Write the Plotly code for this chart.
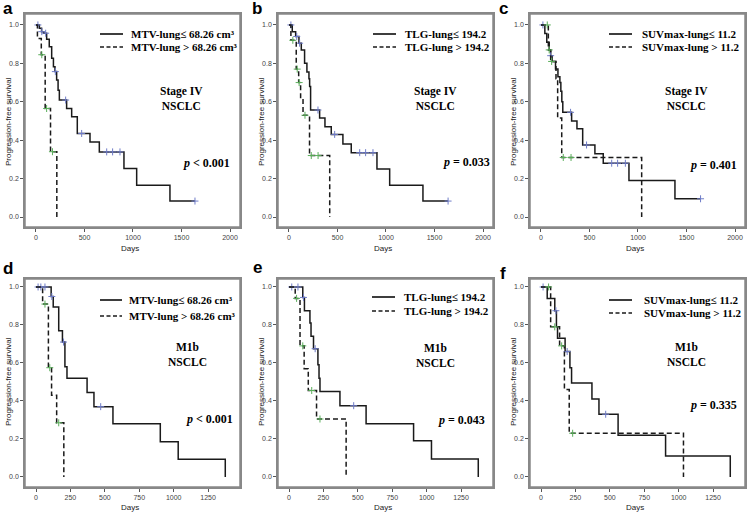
import plotly.graph_objects as go
from plotly.subplots import make_subplots

# ---- data ----
# each curve: event times (days), survival after each time, censor times
a_low_t = [0, 35, 58, 80, 110, 137, 162, 180, 196, 213, 228, 241, 316, 368, 426, 557, 653, 907, 1038, 1381]
a_low_s = [1.0, 0.983, 0.965, 0.957, 0.925, 0.887, 0.826, 0.783, 0.757, 0.713, 0.66, 0.609, 0.565, 0.522, 0.435, 0.391, 0.339, 0.252, 0.165, 0.083]
a_low_c = [20, 60, 100, 200, 306, 471, 729, 790, 866, 1639]
a_high_t = [0, 15, 55, 95, 150, 215]
a_high_s = [1.0, 0.93, 0.845, 0.565, 0.34, 0.0]
a_high_c = [60, 110, 170]

b_low_t = [0, 34, 69, 103, 127, 161, 185, 206, 213, 223, 316, 371, 436, 556, 642, 907, 1038, 1381]
b_low_s = [1.0, 0.965, 0.94, 0.905, 0.87, 0.80, 0.755, 0.72, 0.68, 0.557, 0.515, 0.47, 0.43, 0.38, 0.335, 0.25, 0.165, 0.083]
b_low_c = [20, 80, 110, 299, 471, 729, 790, 866, 1640]
b_high_t = [0, 20, 75, 100, 120, 145, 212, 420]
b_high_s = [1.0, 0.92, 0.77, 0.70, 0.617, 0.53, 0.32, 0.0]
b_high_c = [40, 85, 105, 165, 230, 300]

c_low_t = [0, 40, 60, 85, 100, 115, 150, 175, 195, 205, 215, 225, 316, 371, 430, 556, 642, 907, 1381]
c_low_s = [1.0, 0.955, 0.91, 0.87, 0.84, 0.81, 0.77, 0.73, 0.70, 0.655, 0.60, 0.545, 0.50, 0.46, 0.375, 0.33, 0.28, 0.19, 0.095]
c_low_c = [20, 100, 305, 470, 729, 790, 870, 1645]
c_high_t = [0, 76, 100, 155, 172, 214, 1038]
c_high_s = [1.0, 0.87, 0.81, 0.72, 0.515, 0.31, 0.0]
c_high_c = [65, 85, 110, 230, 310]

d_low_t = [0, 110, 125, 165, 192, 210, 225, 371, 421, 559, 903, 1033, 1375]
d_low_s = [1.0, 0.95, 0.895, 0.77, 0.71, 0.58, 0.52, 0.445, 0.37, 0.28, 0.185, 0.093, 0.0]
d_low_c = [15, 35, 65, 115, 200, 470]
d_high_t = [0, 48, 90, 113, 150, 202]
d_high_s = [1.0, 0.91, 0.575, 0.43, 0.285, 0.0]
d_high_c = [65, 100, 165]

e_low_t = [0, 100, 112, 152, 160, 178, 210, 218, 225, 370, 560, 905, 1035, 1375]
e_low_s = [1.0, 0.945, 0.875, 0.81, 0.74, 0.675, 0.59, 0.52, 0.45, 0.375, 0.28, 0.19, 0.095, 0.0]
e_low_c = [20, 65, 105, 190, 470]
e_high_t = [0, 45, 80, 110, 140, 200, 415]
e_high_s = [1.0, 0.94, 0.69, 0.57, 0.455, 0.305, 0.0]
e_high_c = [55, 100, 165, 225]

f_low_t = [0, 45, 100, 112, 120, 175, 210, 222, 370, 421, 560, 905, 1375]
f_low_s = [1.0, 0.94, 0.875, 0.79, 0.73, 0.66, 0.575, 0.495, 0.41, 0.33, 0.22, 0.11, 0.0]
f_low_c = [15, 108, 190, 470]
f_high_t = [0, 70, 135, 170, 205, 1035]
f_high_s = [1.0, 0.79, 0.69, 0.46, 0.23, 0.0]
f_high_c = [55, 100, 150, 230]

panel_letters = ["a", "b", "c", "d", "e", "f"]
legend_low = ["MTV-lung≤ 68.26 cm³", "TLG-lung≤ 194.2", "SUVmax-lung≤ 11.2"] * 2
legend_high = ["MTV-lung > 68.26 cm³", "TLG-lung > 194.2", "SUVmax-lung > 11.2"] * 2
stage_text = ["Stage IV<br>NSCLC"] * 3 + ["M1b<br>NSCLC"] * 3
p_text = ["<i>p</i> < 0.001", "<i>p</i> = 0.033", "<i>p</i> = 0.401",
          "<i>p</i> < 0.001", "<i>p</i> = 0.043", "<i>p</i> = 0.335"]

curves = [
    (a_low_t, a_low_s, a_low_c, a_high_t, a_high_s, a_high_c),
    (b_low_t, b_low_s, b_low_c, b_high_t, b_high_s, b_high_c),
    (c_low_t, c_low_s, c_low_c, c_high_t, c_high_s, c_high_c),
    (d_low_t, d_low_s, d_low_c, d_high_t, d_high_s, d_high_c),
    (e_low_t, e_low_s, e_low_c, e_high_t, e_high_s, e_high_c),
    (f_low_t, f_low_s, f_low_c, f_high_t, f_high_s, f_high_c),
]

W, H = 747, 513
LINE = "#1a1a1a"
BLUE = "#6f7cc8"
GREEN = "#5aae5a"
FRAME = "#888888"
SERIF = "Liberation Serif"
SANS = "Liberation Sans"
DASH = "5px,3px"


def px(x):
    return x / W


def py(y):
    return 1 - y / H


def step_value(times, surv, t):
    v = surv[0]
    for ti, si in zip(times, surv):
        if ti <= t:
            v = si
    return v


def km_line(times, surv, cens):
    xs = list(times)
    ys = list(surv)
    if cens and max(cens) > times[-1]:
        xs.append(max(cens))
        ys.append(surv[-1])
    return xs, ys


fig = make_subplots(rows=2, cols=3)

col_px = [(25, 240), (278, 493), (530, 745)]
row_px = [(14, 227), (279, 487)]

for i, (lt, ls, lc, ht, hs, hc) in enumerate(curves):
    r, c = i // 3 + 1, i % 3 + 1
    for t, s, cs, dash, mcol in [(lt, ls, lc, "solid", BLUE), (ht, hs, hc, DASH, GREEN)]:
        xs, ys = km_line(t, s, cs)
        fig.add_trace(go.Scatter(x=xs, y=ys, mode="lines", line_shape="hv",
                                 line=dict(color=LINE, width=1.5, dash=dash),
                                 showlegend=False, hoverinfo="skip"), row=r, col=c)
        fig.add_trace(go.Scatter(x=cs, y=[step_value(t, s, v) for v in cs], mode="markers",
                                 marker=dict(symbol="cross-thin", size=5,
                                             line=dict(color=mcol, width=1)),
                                 showlegend=False, hoverinfo="skip"), row=r, col=c)

axis_common = dict(showline=True, mirror=True, linecolor=FRAME, linewidth=1.5,
                   ticks="outside", ticklen=3, tickcolor="#555", showgrid=False,
                   zeroline=False, automargin=False,
                   tickfont=dict(family=SANS, size=7, color="#444"))
fig.update_xaxes(**axis_common)
fig.update_yaxes(**axis_common)

shapes = []
for i in range(6):
    r, c = i // 3, i % 3
    x0, x1 = col_px[c]
    yt, yb = row_px[r]
    if r == 0:
        xr, xt = [-113, 2103], [0, 500, 1000, 1500, 2000]
        yr = [-0.052, 1.057]
    else:
        xr, xt = [-80, 1482], [0, 250, 500, 750, 1000, 1250]
        yr = [-0.053, 1.042]
    fig.update_xaxes(domain=[px(x0), px(x1)], range=xr, tickvals=xt, row=r + 1, col=c + 1)
    fig.update_yaxes(domain=[py(yb), py(yt)], range=yr,
                     tickvals=[0, 0.2, 0.4, 0.6, 0.8, 1.0], tickformat=".1f",
                     row=r + 1, col=c + 1)
    # panel frame (drawn as four paper lines as well)
    for (ax0, ay0, ax1, ay1) in [(x0, yt, x1, yt), (x0, yb, x1, yb), (x0, yt, x0, yb), (x1, yt, x1, yb)]:
        shapes.append(dict(type="line", xref="paper", yref="paper",
                           x0=px(ax0), x1=px(ax1), y0=py(ay0), y1=py(ay1),
                           line=dict(color=FRAME, width=1.5)))

annotations = []
# per-panel text positions in pixels
letter_pos = [(8, 8), (257, 8), (504, 8), (8, 268), (257, 267), (503, 273)]
legend_pos = [(100, 123, 129, 34, 47), (373, 396, 403, 34, 47), (609, 632, 640, 34, 47),
              (100, 122, 127, 300, 316), (372, 395, 402, 297, 311), (609, 632, 642, 300, 313)]
stage_pos = [(181, 98), (435, 98), (686, 98), (187, 354), (435, 355), (686, 354)]
p_pos = [(206, 163), (466, 162), (713, 165), (209, 419), (461, 420), (713, 405)]


def note(x, y, text, font, **kw):
    d = dict(x=px(x), y=py(y), xref="paper", yref="paper", text=text, showarrow=False,
             xanchor="center", yanchor="middle", font=font)
    d.update(kw)
    annotations.append(d)


for i in range(6):
    lx, ly = letter_pos[i]
    note(lx, ly, "<b>%s</b>" % panel_letters[i], dict(family=SANS, size=17, color="black"))
    l0, l1, tx, y1, y2 = legend_pos[i]
    for yy, dash, txt in [(y1, "solid", legend_low[i]), (y2, "4px,2.5px", legend_high[i])]:
        shapes.append(dict(type="line", xref="paper", yref="paper", x0=px(l0), x1=px(l1),
                           y0=py(yy), y1=py(yy), line=dict(color=LINE, width=1.7, dash=dash)))
        note(tx, yy, "<b>%s</b>" % txt, dict(family=SERIF, size=11, color="black"), xanchor="left")
    sx, sy = stage_pos[i]
    note(sx, sy, "<b>%s</b>" % stage_text[i], dict(family=SERIF, size=11.5, color="black"))
    qx, qy = p_pos[i]
    note(qx, qy, "<b>%s</b>" % p_text[i], dict(family=SERIF, size=12, color="black"))

# axis titles
for r, (ycen, ydays) in enumerate([(122, 248), (382, 507)]):
    for c in range(3):
        x0, x1 = col_px[c]
        note(x0 - 17, ycen, "Progression-free survival", dict(family=SANS, size=8, color="#222"),
             textangle=-90)
        note((x0 + x1) / 2 - 3, ydays, "Days", dict(family=SANS, size=8, color="#222"))

fig.update_layout(width=W, height=H, margin=dict(l=0, r=0, t=0, b=0),
                  paper_bgcolor="white", plot_bgcolor="white",
                  annotations=annotations, shapes=shapes, showlegend=False)

fig.write_html("out.html", config={"displayModeBar": False},
               post_script="document.body.style.margin='0';")
